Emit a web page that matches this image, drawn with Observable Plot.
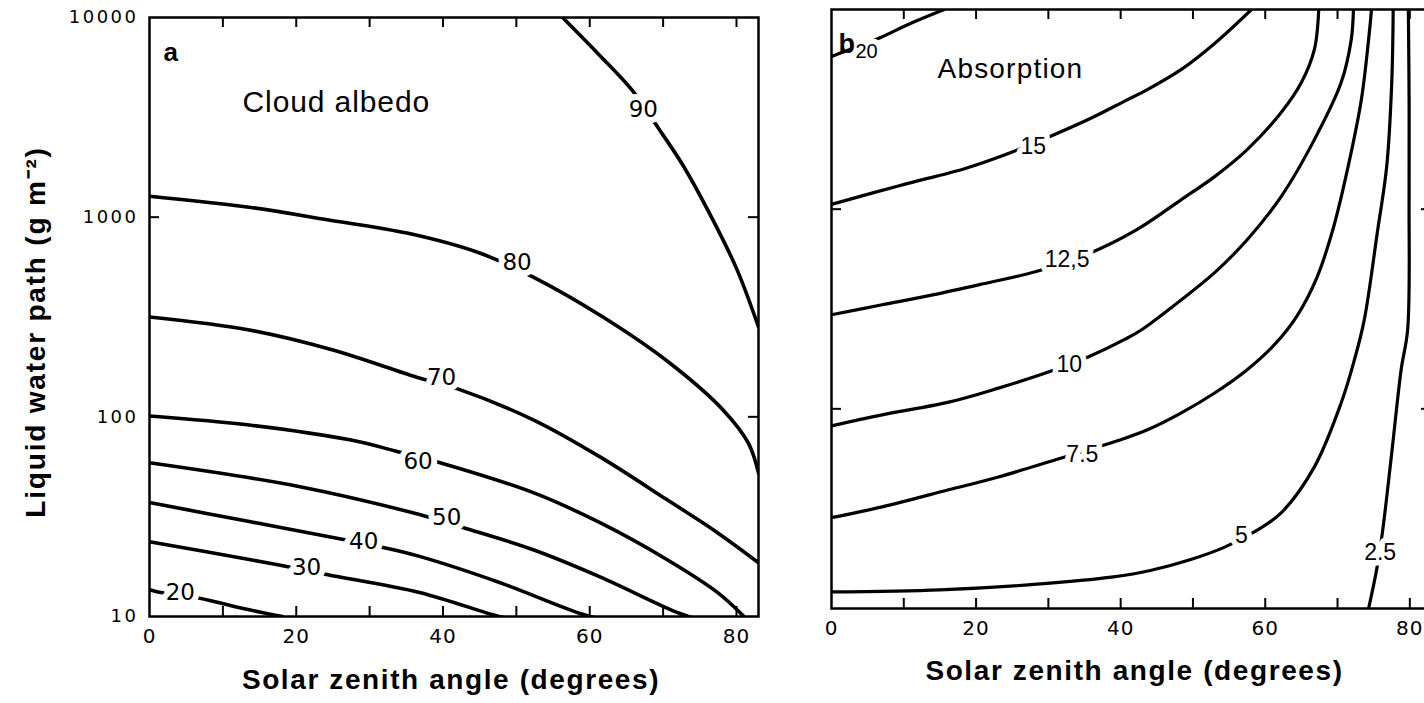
<!DOCTYPE html>
<html>
<head>
<meta charset="utf-8">
<script src="https://cdn.jsdelivr.net/npm/d3@7"></script>
<script src="https://cdn.jsdelivr.net/npm/@observablehq/plot@0.6"></script>
<style>
html, body { margin: 0; padding: 0; background: #fff; overflow: hidden; width: 1424px; height: 703px; }
#wrap { position: relative; width: 1424px; height: 703px; overflow: hidden; }
#wrap svg { position: absolute; top: 0; overflow: visible; }
g[aria-label="y-axis tick label"] text { letter-spacing: 2.5px; }
g[aria-label="x-axis tick label"] text { letter-spacing: 1px; }
</style>
</head>
<body>
<div id="wrap"></div>
<script>
// ---------------- data ----------------
const angleLabelTicks = [0, 20, 40, 60, 80];
const angleFrameTicks = [10, 20, 30, 40, 50, 60, 70, 80];
const lwpLabelTicks = [10, 100, 1000, 10000];
const lwpFrameTicks = [100, 1000];

// Panel a: cloud albedo (%) contours, points = [solar zenith angle (deg), liquid water path (g m-2)]
const albedoLevels = [20, 30, 40, 50, 60, 70, 80, 90];
const albedo20 = [[0,13.6],[1,13.3],[6.5,12.4],[13.6,10.8],[18.1,10]];
const albedo30 = [[0,23.7],[13.6,19.3],[18.7,17.8],[24.3,16.2],[36.8,13.2],[46.8,10.2],[50,9.5]];
const albedo40 = [[0,37.2],[13.6,29.9],[25.9,24.5],[32,22.1],[36.8,20],[47.7,14.8],[58.7,10.35],[62,9.6]];
const albedo50 = [[0,58.9],[20.5,44.7],[36.8,32.4],[42.7,27.9],[52.3,21.6],[61.4,15.8],[72.3,10.35],[76,9.4]];
const albedo60 = [[0,101],[13.6,91],[27.3,76.7],[33.5,67.5],[39.6,58.9],[52.3,41.7],[61.4,29.5],[70.5,19.3],[77.4,13.2],[81.5,9.6]];
const albedo70 = [[0,316],[13.6,272],[25,216],[36.4,158],[42,138],[52.3,96.6],[61.4,63],[70.5,38.5],[77.4,26.3],[83,18.6]];
const albedo80 = [[0,1274],[13.6,1122],[24.6,966],[35.1,832],[45,661],[52.3,501],[61.8,316],[70.9,186],[78.2,108],[81.6,74],[83,52.5]];
const albedo90 = [[56.3,10000],[61.1,6607],[65.8,4315],[68.9,2951],[72.7,1820],[76.8,966],[80.1,543],[83,282]];
const albedoContours = [albedo20, albedo30, albedo40, albedo50, albedo60, albedo70, albedo80, albedo90];
const albedoLabelText  = ["20", "30", "40", "50", "60", "70", "80", "90"];
const albedoLabelAngle = [4.2, 21.4, 29.2, 40.5, 36.6, 39.8, 50.1, 67.3];
const albedoLabelLwp   = [13.2, 17.6, 23.7, 31.3, 59.6, 158, 589, 3467];

// Panel b: absorption (%) contours
const absorbLevels = [2.5, 5, 7.5, 10, 12.5, 15, 20];
const absorb25  = [[74.3,10],[75.4,15.6],[76.2,23.9],[77.5,60.1],[78.8,157],[79.7,249],[79.9,1117],[79.9,3540],[79.8,10000]];
const absorb5   = [[0,12.1],[15,12.4],[28,13.2],[39,14.4],[44.1,15.5],[49.7,17.6],[54.4,20.3],[58.9,24.7],[62.2,30.1],[66.8,51.2],[70.5,107],[72.3,174],[73.7,279],[75.5,762],[76.8,1633],[77.5,4305],[77.7,10000]];
const absorb75  = [[0,28.5],[7,32.3],[16.2,39.3],[23.1,45.6],[31,55.6],[40.4,70.8],[43.7,78.5],[48.4,95.5],[53,120],[57.5,157],[61.4,212],[64.45,294],[67.1,450],[69.4,800],[71.5,1656],[73.3,3540],[74.4,7670],[74.7,10000]];
const absorb10  = [[0,82.2],[7,93.3],[16.2,108],[23.1,127],[29.6,151],[35.5,182],[40.7,224],[42.9,249],[48.4,352],[53,481],[57.5,703],[62.2,1156],[66.8,2230],[70.5,4305],[71.9,7080],[72.2,10000]];
const absorb125 = [[0,296],[7,332],[14,372],[21,423],[28.2,486],[35,586],[42,780],[48.4,1117],[53,1455],[57.5,1987],[62.2,3047],[65,4305],[66.8,6310],[67.4,10000]];
const absorb15  = [[0,1057],[9.5,1315],[18.5,1600],[24.1,1879],[29.9,2286],[35.8,2844],[40.7,3499],[43.7,3972],[48.4,5012],[53,6761],[58.1,10000]];
const absorb20  = [[0,5810],[2.1,6220],[6.8,7245],[10.9,8510],[15.6,10000]];
const absorbContours = [absorb25, absorb5, absorb75, absorb10, absorb125, absorb15, absorb20];
const absorbLabelText  = ["2.5", "5", "7.5", "10", "12,5", "15", "20"];
const absorbLabelAngle = [75.9, 56.7, 34.7, 32.9, 32.6, 27.9, 4.85];
const absorbLabelLwp   = [19, 23.3, 58.9, 166, 558, 2056, 6170];

// ---------------- tables for Plot ----------------
const toRows = (levels, contours) => levels.flatMap((level, i) =>
  contours[i].map(([angle, lwp]) => ({level, angle, lwp})));
const toLabels = (text, angle, lwp) => text.map((t, i) => ({text: t, angle: angle[i], lwp: lwp[i]}));

const albedoRows = toRows(albedoLevels, albedoContours);
const absorbRows = toRows(absorbLevels, absorbContours);
const albedoLabels = toLabels(albedoLabelText, albedoLabelAngle, albedoLabelLwp);
const absorbLabels = toLabels(absorbLabelText, absorbLabelAngle, absorbLabelLwp);

const SANS = "Liberation Sans, Arial, Helvetica, sans-serif";
const NUM = "DejaVu Sans, sans-serif";
const TICK = 10;
const X_TITLE = "Solar zenith angle (degrees)";
const Y_TITLE = "Liquid water path (g m⁻²)";

function framedTicks(innerW, innerH) {
  return [
    Plot.tickX(angleFrameTicks, {x: d => d, insetTop: innerH - TICK, strokeWidth: 2}),
    Plot.tickX(angleFrameTicks, {x: d => d, insetBottom: innerH - TICK, strokeWidth: 2}),
    Plot.tickY(lwpFrameTicks, {y: d => d, insetRight: innerW - TICK, strokeWidth: 2}),
    Plot.tickY(lwpFrameTicks, {y: d => d, insetLeft: innerW - TICK, strokeWidth: 2})
  ];
}

// ---------------- panel a ----------------
const A = {w: 780, h: 703, ml: 149, mr: 22, mt: 17, mb: 87};
const aIW = A.w - A.ml - A.mr, aIH = A.h - A.mt - A.mb;
const plotA = Plot.plot({
  width: A.w, height: A.h,
  marginLeft: A.ml, marginRight: A.mr, marginTop: A.mt, marginBottom: A.mb,
  style: {fontFamily: SANS, background: "transparent", color: "black"},
  x: {domain: [0, 83]},
  y: {type: "log", domain: [10, 10000]},
  marks: [
    Plot.line(albedoRows, {x: "angle", y: "lwp", z: "level", curve: "catmull-rom", stroke: "black", strokeWidth: 3.6, clip: true}),
    Plot.text(albedoLabels, {x: "angle", y: "lwp", text: "text", fontFamily: NUM, fontSize: 23, fill: "black",
      stroke: "white", strokeWidth: 12, strokeLinejoin: "round", paintOrder: "stroke"}),
    Plot.frame({stroke: "black", strokeWidth: 2.5}),
    ...framedTicks(aIW, aIH),
    Plot.axisY({anchor: "left", ticks: lwpLabelTicks, tickSize: 0, tickPadding: 11, tickFormat: d3.format("d"),
      fontSize: 18, fontFamily: NUM, label: null}),
    Plot.axisX({anchor: "bottom", ticks: angleLabelTicks, tickSize: 0, tickPadding: 12,
      fontSize: 20, fontFamily: NUM, label: null}),
    Plot.text(["a"], {frameAnchor: "top-left", dx: 14, dy: 25, fontSize: 26, fontWeight: "bold", textAnchor: "start"}),
    Plot.text(["Cloud albedo"], {frameAnchor: "top-left", dx: 93, dy: 73, fontSize: 30, textAnchor: "start"}),
    Plot.text([X_TITLE], {frameAnchor: "bottom", dx: -3, dy: 72, fontSize: 28, fontWeight: "bold"}),
    Plot.text([Y_TITLE], {frameAnchor: "left", rotate: -90, textAnchor: "middle", dx: -113, dy: 15, fontSize: 28, fontWeight: "bold"})
  ]
});
plotA.style.left = "0px";

// ---------------- panel b ----------------
const B = {left: 700, w: 760, h: 703, ml: 131, mr: 29, mt: 9, mb: 95};
const bIW = B.w - B.ml - B.mr, bIH = B.h - B.mt - B.mb;
const plotB = Plot.plot({
  width: B.w, height: B.h,
  marginLeft: B.ml, marginRight: B.mr, marginTop: B.mt, marginBottom: B.mb,
  style: {fontFamily: SANS, background: "transparent", color: "black"},
  x: {domain: [0, 83]},
  y: {type: "log", domain: [10, 10000], axis: null},
  marks: [
    Plot.line(absorbRows, {x: "angle", y: "lwp", z: "level", curve: "catmull-rom", stroke: "black", strokeWidth: 3.2, clip: true}),
    Plot.text(absorbLabels, {x: "angle", y: "lwp", text: "text", fontFamily: SANS,
      fontSize: d => d.text === "20" ? 20 : 23, fill: "black",
      stroke: "white", strokeWidth: 11, strokeLinejoin: "round", paintOrder: "stroke"}),
    Plot.frame({stroke: "black", strokeWidth: 2.5}),
    ...framedTicks(bIW, bIH),
    Plot.axisX({anchor: "bottom", ticks: angleLabelTicks, tickSize: 0, tickPadding: 12,
      fontSize: 20, fontFamily: NUM, label: null}),
    Plot.text(["b"], {frameAnchor: "top-left", dx: 7, dy: 24, fontSize: 27, fontWeight: "bold", textAnchor: "start"}),
    Plot.text(["Absorption"], {frameAnchor: "top-left", dx: 106, dy: 49, fontSize: 28, textAnchor: "start"}),
    Plot.text([X_TITLE], {frameAnchor: "bottom", dx: 3, dy: 71, fontSize: 28, fontWeight: "bold"})
  ]
});
plotB.style.left = B.left + "px";

// letter spacing for the wide typeface of the original
function spaceText(svg, content, spacing) {
  d3.select(svg).selectAll("text")
    .filter(function() { return this.textContent === content; })
    .style("letter-spacing", spacing);
}
spaceText(plotA, X_TITLE, "1.6px");
spaceText(plotB, X_TITLE, "1.6px");
spaceText(plotA, Y_TITLE, "1.8px");
spaceText(plotA, "Cloud albedo", "0.9px");
spaceText(plotB, "Absorption", "1.2px");

const wrap = document.getElementById("wrap");
wrap.appendChild(plotA);
wrap.appendChild(plotB);
</script>
</body>
</html>
